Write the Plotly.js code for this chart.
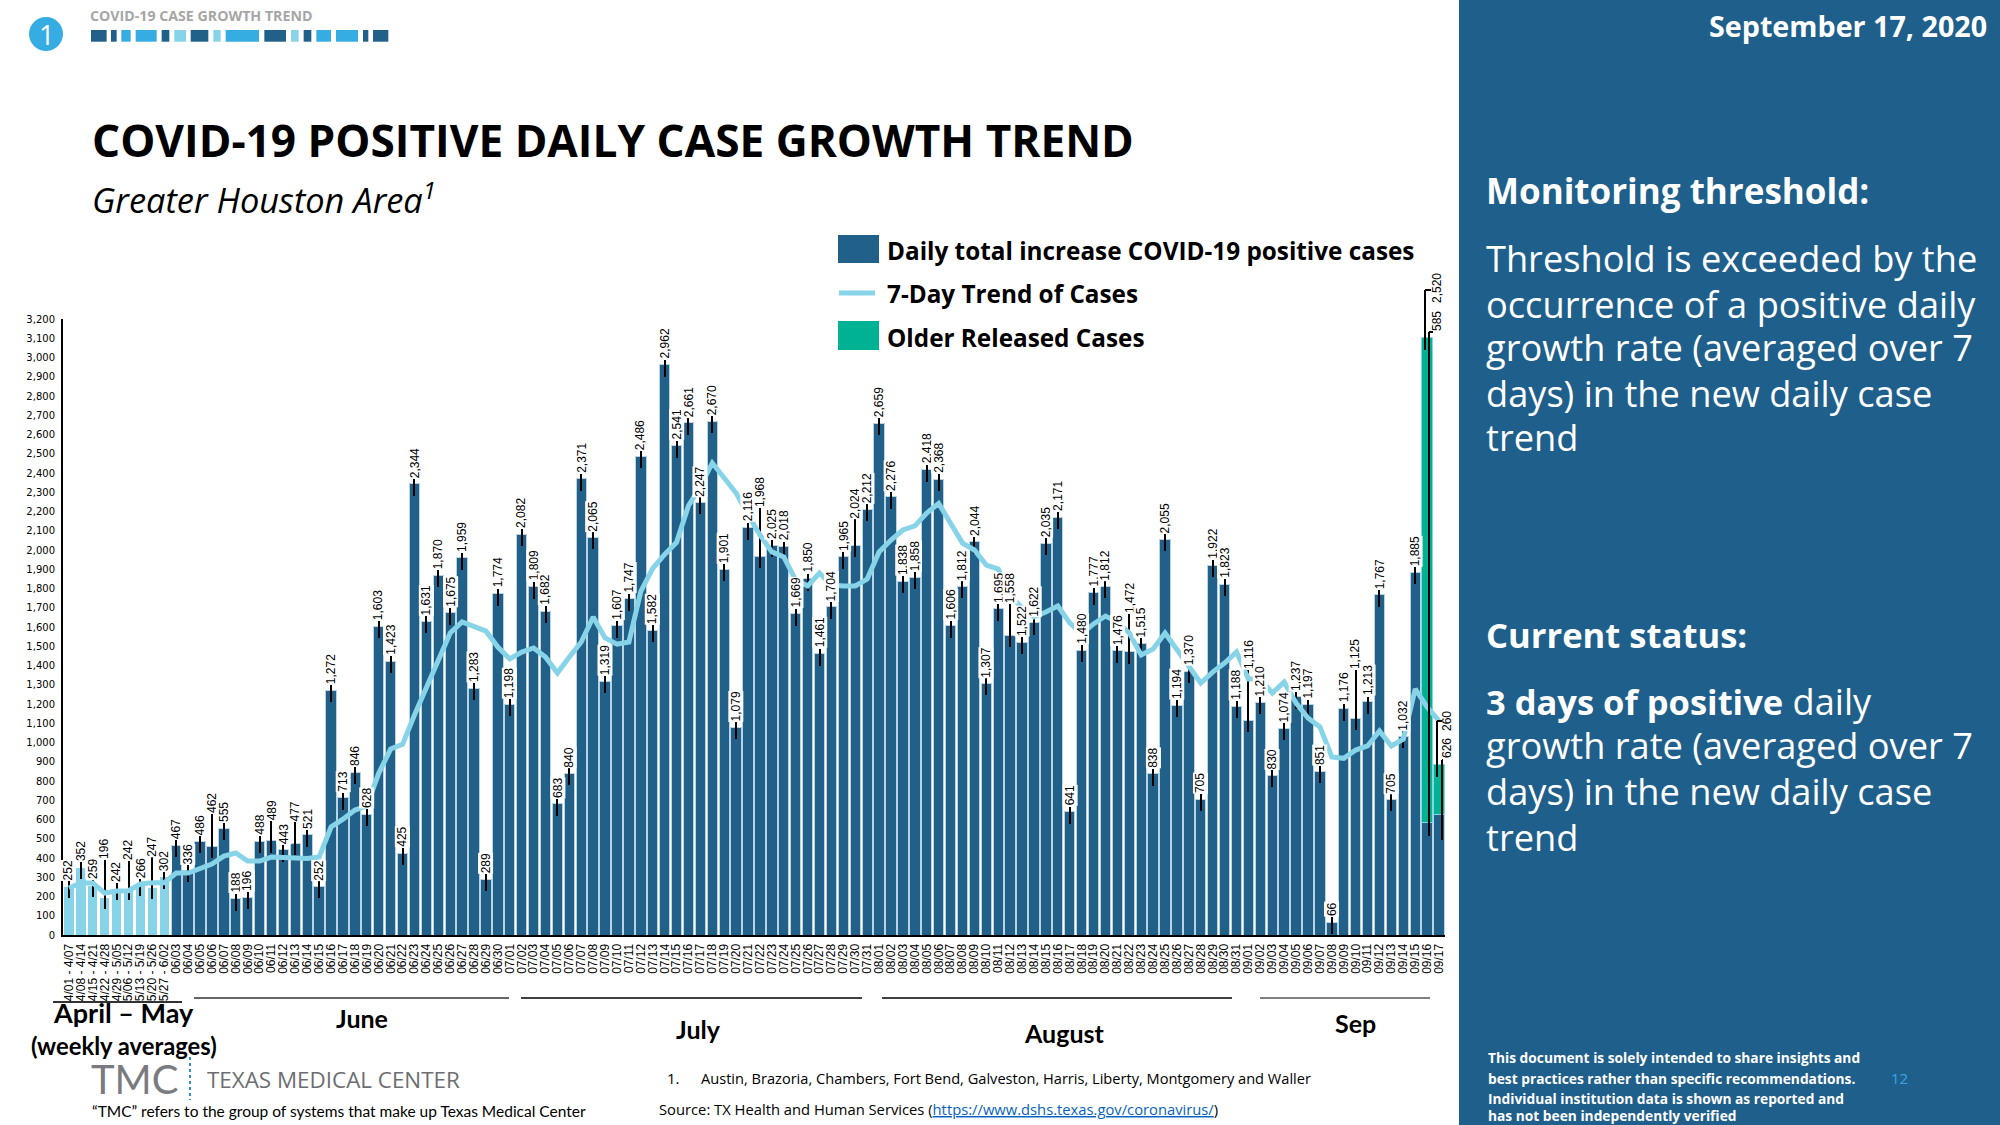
<!DOCTYPE html>
<html>
<head>
<meta charset="utf-8">
<script src="https://cdn.plot.ly/plotly-3.0.1.min.js"></script>
<style>html,body{margin:0;padding:0;background:#fff}#chart{width:2000px;height:1125px}</style>
</head>
<body>
<div id="chart"></div>
<script>
const weeklyLabels = ["4/01 - 4/07","4/08 - 4/14","4/15 - 4/21","4/22 - 4/28","4/29 - 5/05","5/06 - 5/12","5/13 - 5/19","5/20 - 5/26","5/27 - 6/02"];
const juneDays = ["06/03","06/04","06/05","06/06","06/07","06/08","06/09","06/10","06/11","06/12","06/13","06/14","06/15","06/16","06/17","06/18","06/19","06/20","06/21","06/22","06/23","06/24","06/25","06/26","06/27","06/28","06/29","06/30"];
const julyDays = ["07/01","07/02","07/03","07/04","07/05","07/06","07/07","07/08","07/09","07/10","07/11","07/12","07/13","07/14","07/15","07/16","07/17","07/18","07/19","07/20","07/21","07/22","07/23","07/24","07/25","07/26","07/27","07/28","07/29","07/30","07/31"];
const augDays = ["08/01","08/02","08/03","08/04","08/05","08/06","08/07","08/08","08/09","08/10","08/11","08/12","08/13","08/14","08/15","08/16","08/17","08/18","08/19","08/20","08/21","08/22","08/23","08/24","08/25","08/26","08/27","08/28","08/29","08/30","08/31"];
const sepDays = ["09/01","09/02","09/03","09/04","09/05","09/06","09/07","09/08","09/09","09/10","09/11","09/12","09/13","09/14","09/15","09/16","09/17"];

const weeklyCases = [252,352,259,196,242,242,266,247,302];
const juneCases = [467,336,486,462,555,188,196,488,489,443,477,521,252,1272,713,846,628,1603,1423,425,2344,1631,1870,1675,1959,1283,289,1774];
const julyCases = [1198,2082,1809,1682,683,840,2371,2065,1319,1607,1747,2486,1582,2962,2541,2661,2247,2670,1901,1079,2116,1968,2025,2018,1669,1850,1461,1704,1965,2024,2212];
const augCases = [2659,2276,1838,1858,2418,2368,1606,1812,2044,1307,1695,1558,1522,1622,2035,2171,641,1480,1777,1812,1476,1472,1515,838,2055,1194,1370,705,1922,1823,1188];
const sepCases = [1116,1210,830,1074,1237,1197,851,66,1176,1125,1213,1767,705,1032,1885,585,626];

const olderReleasedDays = ["09/16","09/17"];
const olderReleased = [2520,260];

const trend = [244,270,270,218,228,230,265,272,272,322,
322,348,369,410,426,384,384,405,403,400,
398,405,561,602,649,670,840,966,990,1143,
1283,1429,1569,1626,1600,1579,1496,1434,1470,1491,
1444,1361,1444,1522,1652,1543,1511,1522,1785,1905,
1977,2040,2230,2330,2452,2374,2296,2182,2078,1990,
1964,1844,1813,1880,1818,1813,1813,1849,1990,2052,
2104,2125,2192,2242,2140,2036,2000,1922,1901,1766,
1699,1652,1678,1709,1621,1564,1616,1657,1626,1569,
1455,1486,1569,1481,1387,1309,1366,1413,1470,1330,
1330,1257,1314,1205,1127,1081,925,918,961,982,
1060,982,1018,1278,1184,1112];

const categories = [...weeklyLabels,...juneDays,...julyDays,...augDays,...sepDays];
const cases = [...weeklyCases,...juneCases,...julyCases,...augCases,...sepCases];
const yTicks = []; for (let v=0;v<=3200;v+=100) yTicks.push(v);

// leader-line lift above the bar (px), only where it differs from the default
const leaderLift = {"4/22 - 4/28":37,"5/06 - 5/12":27,"5/20 - 5/26":30,"06/06":32,"06/11":20,"06/13":21,
  "07/22":48,"07/30":26,"08/12":31,"08/22":38,"09/01":50,"09/10":48};

const DARK='#206089', LIGHT='#87D3E8', GREEN='#00B294', MID='#35ADE3', PANEL='#1F5F8B';
const L=63, R=1445, T=319, B=935;
const unitsPerPx = 3200/(B-T);
const px = x => (x-L)/(R-L), py = y => (B-y)/(B-T);
const fmt = v => v.toLocaleString('en-US');

const annotations = [];
function txt(x,y,text,size,opt={}) {
  annotations.push({xref:'paper',yref:'paper',x:px(x),y:py(y),text,showarrow:false,
    xanchor:opt.anchor||'left',yanchor:'middle',
    font:{family:opt.family||'"Open Sans"',size,color:opt.color||'#000'}, borderpad:0});
}
const shapes = [];
function box(x0,y0,x1,y1,color,layer='below'){
  shapes.push({type:'rect',xref:'paper',yref:'paper',x0:px(x0),x1:px(x1),y0:py(y1),y1:py(y0),
    fillcolor:color,line:{width:0},layer});
}
function seg(x0,y0,x1,y1,color,w,dash){
  shapes.push({type:'line',xref:'paper',yref:'paper',x0:px(x0),x1:px(x1),y0:py(y0),y1:py(y1),
    line:{color,width:w,dash:dash||'solid'},layer:'above'});
}

// value labels
const isSide = c => olderReleasedDays.includes(c);
const lifts = categories.map(c => isSide(c) ? 0 : (leaderLift[c] ?? 5));
categories.forEach((c,i)=>{
  if (isSide(c)) return;
  annotations.push({x:c,y:cases[i],xref:'x',yref:'y',text:fmt(cases[i]),textangle:-90,
    showarrow:false,yshift:lifts[i],xanchor:'center',yanchor:'bottom',
    bgcolor:'#fff',borderpad:0,font:{family:'"Liberation Sans"',size:12,color:'#000'}});
});
function sideLabel(value,yPx,x){
  annotations.push({xref:'paper',yref:'paper',x:px(x),y:py(yPx),text:fmt(value),textangle:-90,showarrow:false,
    xanchor:'center',yanchor:'middle',font:{family:'"Liberation Sans"',size:12,color:'#000'}});
}
sideLabel(olderReleased[0],288,1437);
sideLabel(585,321,1437);
sideLabel(olderReleased[1],721,1447);
sideLabel(626,748,1447);
seg(1425,350,1425,290,'#000',2); seg(1425,290,1431,290,'#000',2);
seg(1429,836,1429,332,'#000',2); seg(1429,332,1433,332,'#000',2);
seg(1437,777,1437,721,'#000',2); seg(1437,721,1442,721,'#000',2);
seg(1442,840,1442,760,'#000',2); seg(1442,760,1443,760,'#000',2);

// right-hand panel
box(1459,0,2000,1125,PANEL);
txt(1988,25,'<b>September 17, 2020</b>',28.7,{color:'#fff',anchor:'right'});
txt(1485,191,'<b>Monitoring threshold:</b>',35,{color:'#fff'});
[['Threshold is exceeded by the',258],['occurrence of a positive daily',304],['growth rate (averaged over 7',347],['days) in the new daily case',393],['trend',437]]
  .forEach(([t,y])=>txt(1485,y,t,36.2,{color:'#fff'}));
txt(1485,634,'<b>Current status:</b>',34.6,{color:'#fff'});
[['<b><span style="font-size:34.5px">3 days of positive</span></b> daily',701],['growth rate (averaged over 7',745],['days) in the new daily case',791],['trend',837]]
  .forEach(([t,y])=>txt(1485,y,t,36.2,{color:'#fff'}));
[['This document is solely intended to share insights and',1057],['best practices rather than specific recommendations.',1078],['Individual institution data is shown as reported and',1098],['has not been independently verified',1115]]
  .forEach(([t,y])=>txt(1487,y,'<b>'+t+'</b>',13.75,{color:'#fff'}));
txt(1899,1078,'12',15,{color:'#3AA8E0',anchor:'center'});

// top-left tracker
shapes.push({type:'circle',xref:'paper',yref:'paper',x0:px(29),x1:px(63),y0:py(51),y1:py(17),fillcolor:MID,line:{width:0},layer:'below'});
txt(46,35,'1',27,{color:'#fff',anchor:'center'});
txt(89,15,'<b>COVID-19 CASE GROWTH TREND</b>',14.2,{color:'#A6A6A6'});
[[273,320,DARK],[333,350,DARK],[364,392,MID],[407,470,MID],[485,508,DARK],[523,558,LIGHT],[572,625,DARK],[640,662,LIGHT],[677,777,MID],[793,858,DARK],[873,896,LIGHT],[911,934,DARK],[949,993,MID],[1008,1074,MID],[1089,1105,DARK],[1119,1165,DARK]]
  .forEach(([a,b,c])=>box(a/3,30,b/3,41.7,c));

// headings
txt(91,140,'<b>COVID-19 POSITIVE DAILY CASE GROWTH TREND</b>',44.2);
txt(91,198,'<i>Greater Houston Area<sup>1</sup></i>',34.4);

// legend (drawn by hand so the swatches keep their large size)
box(838,235,879,263,DARK);
seg(839,293,875,293,LIGHT,5);
box(838,321,879,350,GREEN);
txt(886,251,'<b>Daily total increase COVID-19 positive cases</b>',24.3);
txt(886,293,'<b>7-Day Trend of Cases</b>',24.3);
txt(886,337,'<b>Older Released Cases</b>',24.3);

// month brackets and labels
seg(53,1002,182,1002,'#333',2);
seg(194,998,509,998,'#666',2);
seg(521,998,862,998,'#000',1.5);
seg(882,998,1232,998,'#000',1.5);
seg(1260,998,1430,998,'#555',1.5);
const MF='Lato';
txt(123,1012,'<b>April – May</b>',27,{anchor:'center',family:MF});
txt(124,1046,'<b>(weekly averages)</b>',23.8,{anchor:'center',family:MF});
txt(362,1018,'<b>June</b>',25,{anchor:'center',family:MF});
txt(698,1029,'<b>July</b>',25,{anchor:'center',family:MF});
txt(1064,1033,'<b>August</b>',25,{anchor:'center',family:MF});
txt(1355,1023,'<b>Sep</b>',25,{anchor:'center',family:MF});

// footer
txt(90,1079,'TMC',40,{color:'#7A7B7E',family:MF});
seg(190,1057,190,1100,'#2F8FCB',2,'dot');
txt(206,1079,'TEXAS MEDICAL CENTER',22.4,{color:'#6D6E71'});
txt(91,1111,'“TMC” refers to the group of systems that make up Texas Medical Center',15.5,{family:MF});
txt(666,1078,'1.',15);
txt(700,1078,'Austin, Brazoria, Chambers, Fort Bend, Galveston, Harris, Liberty, Montgomery and Waller',14.6);
txt(658,1109,'Source: TX Health and Human Services (<span style="color:#0563C1;text-decoration:underline">https://www.dshs.texas.gov/coronavirus/</span>)',14.75);

const weeklyCount = weeklyLabels.length;
const data = [
  {type:'bar',name:'Daily total increase COVID-19 positive cases',x:categories,y:cases,
    marker:{color:categories.map((c,i)=>i<weeklyCount?LIGHT:DARK),
      line:{color:categories.map((c,i)=>i<weeklyCount?'#ffffff':'#B9D3E2'),width:1}},
    error_y:{type:'data',symmetric:false,visible:true,color:'#000',thickness:2,width:0,
      array:lifts.map(v=>v*unitsPerPx),
      arrayminus:categories.map(c=>isSide(c)?0:12*unitsPerPx)}},
  {type:'bar',name:'Older Released Cases',x:olderReleasedDays,y:olderReleased,
    marker:{color:GREEN,line:{color:LIGHT,width:1}}},
  {type:'scatter',mode:'lines',name:'7-Day Trend of Cases',x:categories,y:trend,
    line:{color:LIGHT,width:5,shape:'linear'}}
];

const layout = {
  width:2000,height:1125,autosize:false,showlegend:false,
  paper_bgcolor:'#fff',plot_bgcolor:'rgba(0,0,0,0)',
  margin:{l:L,r:2000-R,t:T,b:1125-B,pad:0},
  barmode:'stack',bargap:0.13,
  xaxis:{type:'category',categoryorder:'array',categoryarray:categories,range:[-0.5,categories.length-0.5],
    tickmode:'array',tickvals:categories,ticktext:categories,tickangle:-90,
    tickfont:{family:'"Liberation Sans"',size:12,color:'#000'},ticks:'',ticklabelstandoff:2,
    showgrid:false,zeroline:false,showline:true,linecolor:'#000',linewidth:2,automargin:false,fixedrange:true},
  yaxis:{range:[0,3200],tickmode:'array',tickvals:yTicks,ticktext:yTicks.map(fmt),
    tickfont:{family:'"DejaVu Sans"',size:10,color:'#000'},ticks:'',ticklabelstandoff:4,
    showgrid:false,zeroline:false,showline:true,linecolor:'#000',linewidth:2,automargin:false,fixedrange:true},
  shapes,annotations
};
Plotly.newPlot('chart',data,layout,{displayModeBar:false,responsive:false});
</script>
</body>
</html>
